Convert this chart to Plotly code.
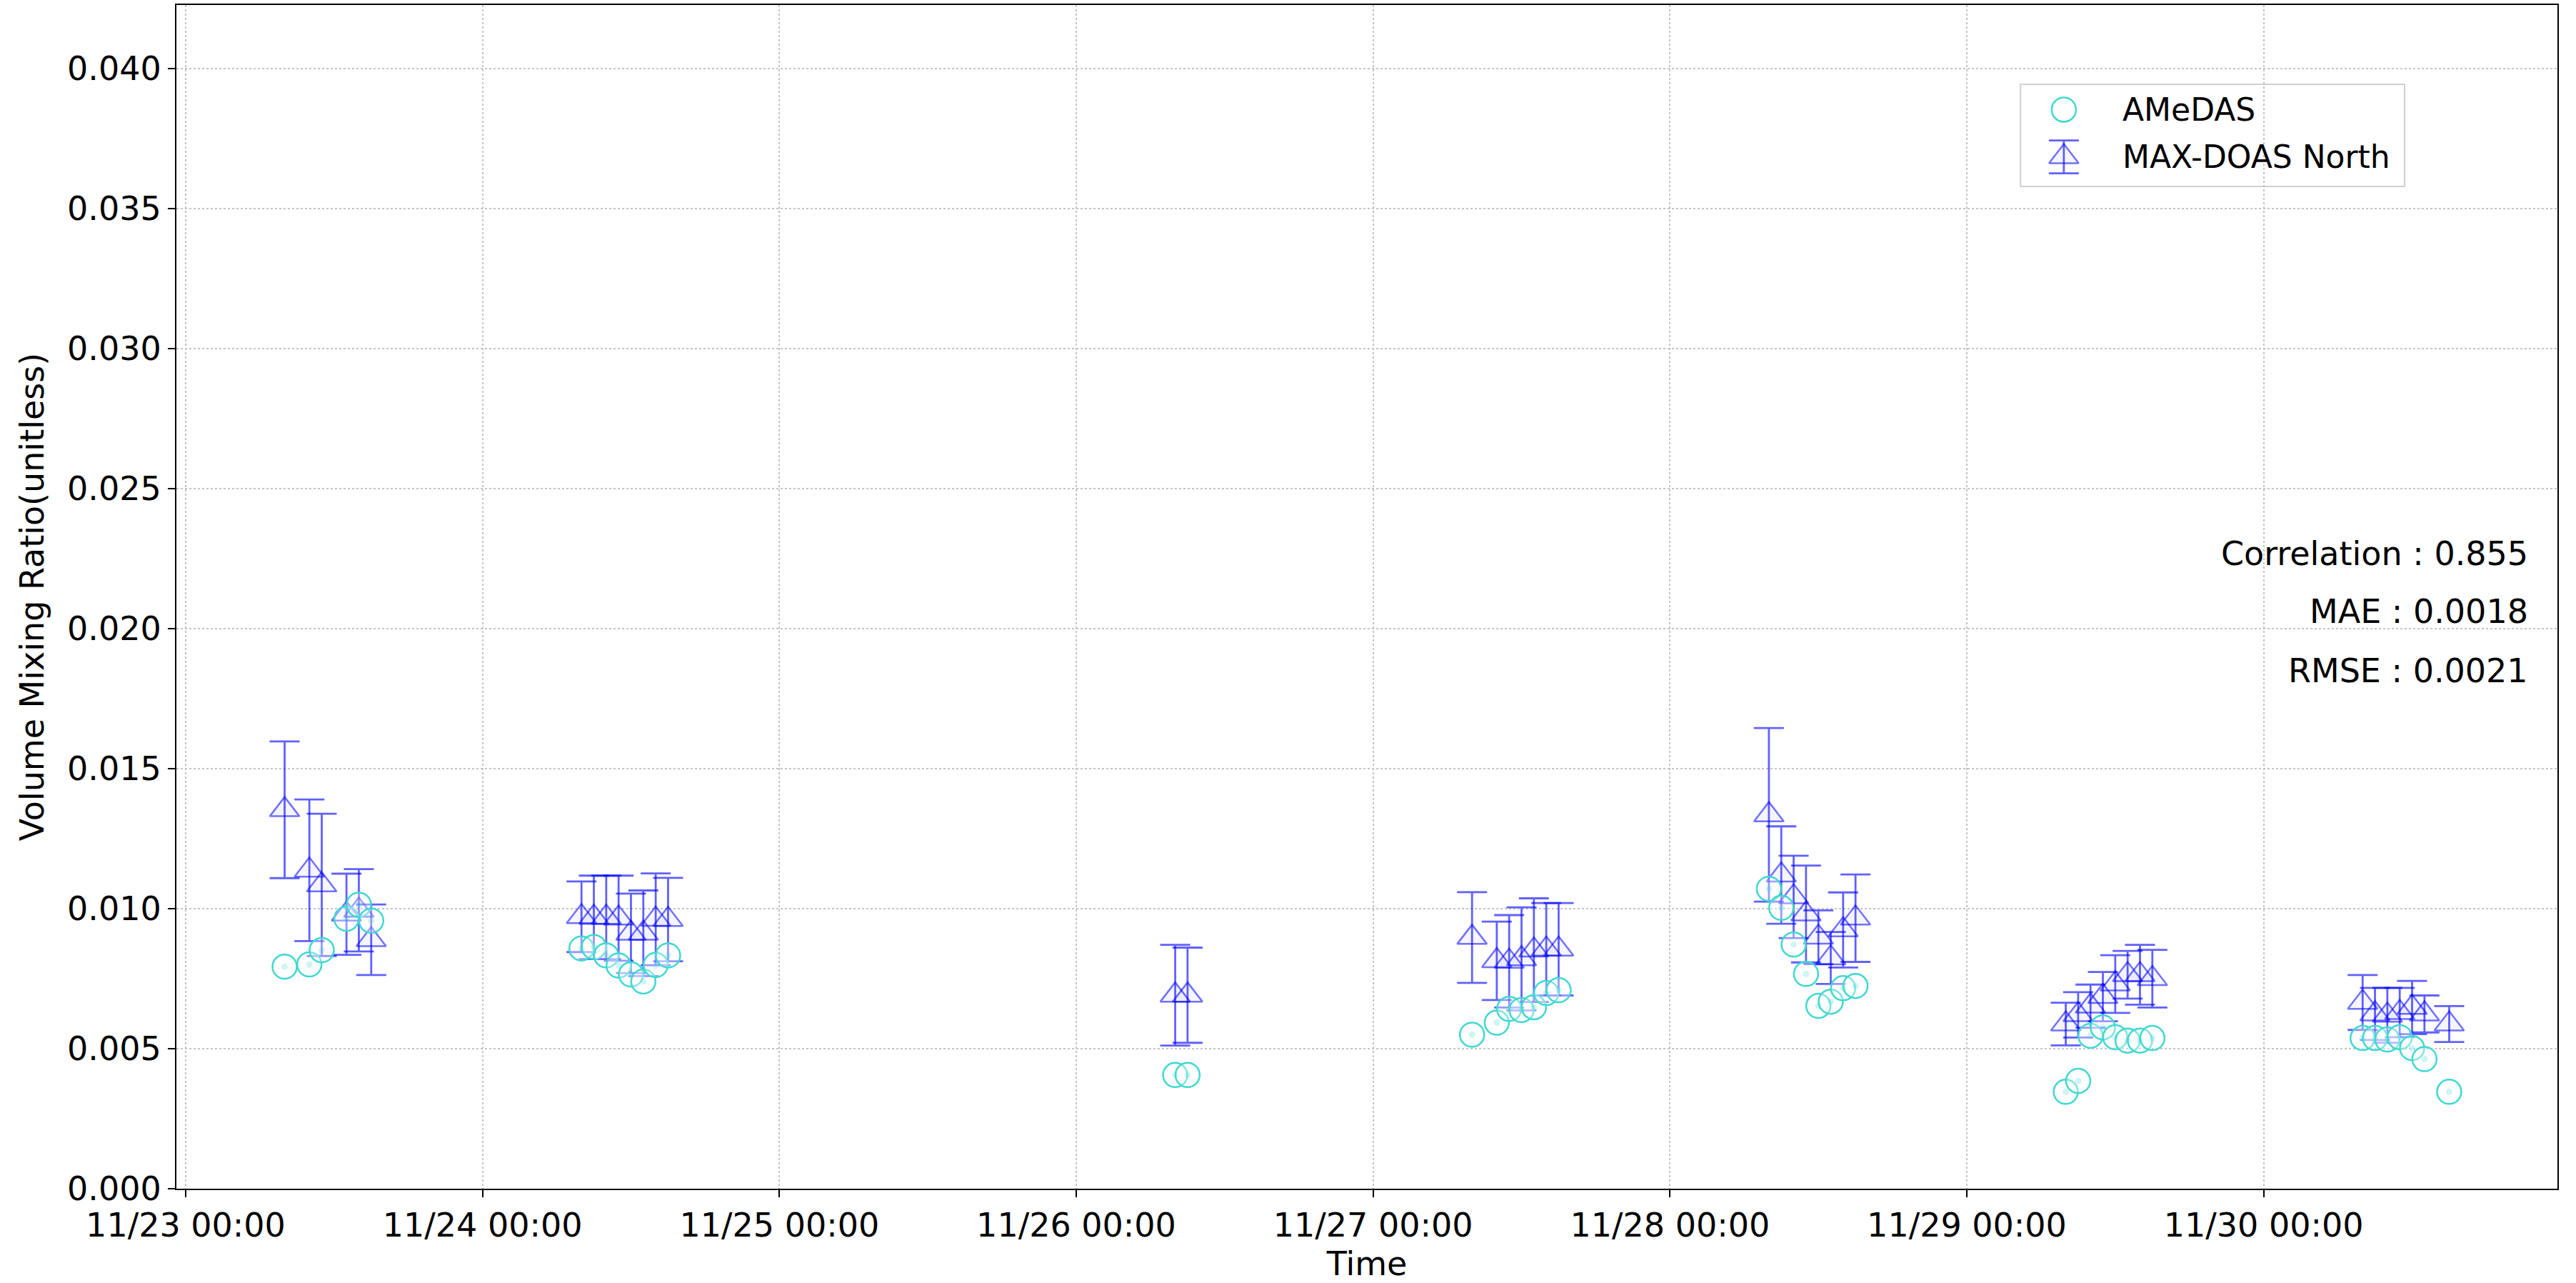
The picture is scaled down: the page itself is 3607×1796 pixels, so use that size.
import plotly.graph_objects as go

# ---------------- data ----------------
times = [
    "2023-11-23 08:00", "2023-11-23 10:00", "2023-11-23 11:00", "2023-11-23 13:00", "2023-11-23 14:00", "2023-11-23 15:00",
    "2023-11-24 08:00", "2023-11-24 09:00", "2023-11-24 10:00", "2023-11-24 11:00", "2023-11-24 12:00", "2023-11-24 13:00", "2023-11-24 14:00", "2023-11-24 15:00",
    "2023-11-26 08:00", "2023-11-26 09:00",
    "2023-11-27 08:00", "2023-11-27 10:00", "2023-11-27 11:00", "2023-11-27 12:00", "2023-11-27 13:00", "2023-11-27 14:00", "2023-11-27 15:00",
    "2023-11-28 08:00", "2023-11-28 09:00", "2023-11-28 10:00", "2023-11-28 11:00", "2023-11-28 12:00", "2023-11-28 13:00", "2023-11-28 14:00", "2023-11-28 15:00",
    "2023-11-29 08:00", "2023-11-29 09:00", "2023-11-29 10:00", "2023-11-29 11:00", "2023-11-29 12:00", "2023-11-29 13:00", "2023-11-29 14:00", "2023-11-29 15:00",
    "2023-11-30 08:00", "2023-11-30 09:00", "2023-11-30 10:00", "2023-11-30 11:00", "2023-11-30 12:00", "2023-11-30 13:00", "2023-11-30 15:00",
]

amedas_vmr = [
    0.00793, 0.00801, 0.00852, 0.00964, 0.01014, 0.00957,
    0.00858, 0.00863, 0.00833, 0.00797, 0.00765, 0.00740, 0.00799, 0.00833,
    0.00406, 0.00406,
    0.00550, 0.00593, 0.00642, 0.00638, 0.00648, 0.00699, 0.00709,
    0.01071, 0.01003, 0.00872, 0.00767, 0.00653, 0.00668, 0.00716, 0.00724,
    0.00346, 0.00385, 0.00546, 0.00576, 0.00541, 0.00529, 0.00529, 0.00538,
    0.00538, 0.00538, 0.00533, 0.00541, 0.00502, 0.00463, 0.00346,
]

maxdoas_vmr = [
    0.01353, 0.01137, 0.01085, 0.00980, 0.00994, 0.00889,
    0.00971, 0.00969, 0.00969, 0.00966, 0.00912, 0.00912, 0.00962, 0.00961,
    0.00691, 0.00691,
    0.00897, 0.00814, 0.00812, 0.00821, 0.00852, 0.00855, 0.00855,
    0.01335, 0.01120, 0.01042, 0.00981, 0.00898, 0.00824, 0.00924, 0.00966,
    0.00588, 0.00621, 0.00652, 0.00686, 0.00731, 0.00764, 0.00764, 0.00750,
    0.00665, 0.00624, 0.00619, 0.00629, 0.00647, 0.00624, 0.00588,
]

maxdoas_err = [
    0.00244, 0.00253, 0.00254, 0.00145, 0.00147, 0.00126,
    0.00126, 0.00149, 0.00149, 0.00152, 0.00142, 0.00153, 0.00164, 0.00149,
    0.00180, 0.00170,
    0.00162, 0.00140, 0.00165, 0.00184, 0.00185, 0.00165, 0.00165,
    0.00310, 0.00174, 0.00147, 0.00173, 0.00096, 0.00093, 0.00134, 0.00156,
    0.00076, 0.00081, 0.00077, 0.00088, 0.00103, 0.00085, 0.00107, 0.00103,
    0.00098, 0.00093, 0.00098, 0.00088, 0.00095, 0.00066, 0.00064,
]

y_ticks = [0.000, 0.005, 0.010, 0.015, 0.020, 0.025, 0.030, 0.035, 0.040]
series_names = ["AMeDAS", "MAX-DOAS North"]
stats_text = ["Correlation : 0.855", "MAE : 0.0018", "RMSE : 0.0021"]

# ---------------- styles ----------------
FONT = "DejaVu Sans"
CYAN = "#40D8D0"
BLUE_ERR = "rgba(0,0,255,0.62)"
BLUE_MK = "rgba(0,0,255,0.55)"
TRI_FILL = "rgba(0,0,255,0.04)"
CIRC_FILL = "rgba(255,255,255,0.35)"

fig = go.Figure()

fig.add_trace(go.Scatter(
    x=times, y=maxdoas_vmr, mode="markers", name=series_names[1], showlegend=False,
    marker=dict(symbol="triangle-up", size=36, color=TRI_FILL, line=dict(width=2.5, color=BLUE_MK)),
    error_y=dict(type="data", array=maxdoas_err, visible=True, color=BLUE_ERR, thickness=2.8, width=21),
))
fig.add_trace(go.Scatter(
    x=times, y=amedas_vmr, mode="markers", name=series_names[0], showlegend=False,
    marker=dict(symbol="circle", size=34, color=CIRC_FILL, line=dict(width=2.5, color=CYAN)),
))
fig.add_trace(go.Scatter(
    x=times, y=amedas_vmr, mode="markers", showlegend=False, hoverinfo="skip",
    marker=dict(symbol="circle", size=9, color="rgba(64,216,208,0.25)", line=dict(width=0)),
))

# ---------- legend drawn on an overlay axis spanning the plot area (0..1) ----------
leg_box = dict(x0=0.7745, x1=0.9358, y0=0.8467, y1=0.933)
leg_sym_x = 0.7927
leg_txt_x = 0.8167
leg_rows_y = [0.9116, 0.8717]

fig.add_shape(type="rect", xref="paper", yref="paper", **leg_box,
              line=dict(color="#d0d0d0", width=2), fillcolor="rgba(255,255,255,0.8)", layer="between")
fig.add_trace(go.Scatter(
    x=[leg_sym_x], y=[leg_rows_y[0]], xaxis="x2", yaxis="y2", mode="markers",
    showlegend=False, hoverinfo="skip",
    marker=dict(symbol="circle", size=34, color=CIRC_FILL, line=dict(width=2.5, color=CYAN)),
))
fig.add_trace(go.Scatter(
    x=[leg_sym_x], y=[leg_rows_y[1]], xaxis="x2", yaxis="y2", mode="markers",
    showlegend=False, hoverinfo="skip",
    marker=dict(symbol="triangle-up", size=36, color=TRI_FILL, line=dict(width=2.5, color=BLUE_MK)),
    error_y=dict(type="constant", value=0.01388, visible=True, color=BLUE_ERR, thickness=2.8, width=21),
))
for name, yy in zip(series_names, leg_rows_y):
    fig.add_annotation(x=leg_txt_x, y=yy, xref="paper", yref="paper", text=name,
                       showarrow=False, xanchor="left", yanchor="middle",
                       font=dict(family=FONT, size=44, color="black"))

for txt, yy in zip(stats_text, [0.5368, 0.4876, 0.4375]):
    fig.add_annotation(
        x=0.9883, y=yy, xref="paper", yref="paper",
        text=txt, showarrow=False, xanchor="right", yanchor="middle",
        font=dict(family=FONT, size=46, color="black"),
    )

L, R, T, B = 247, 26, 7, 132
W, H = 3607, 1796

fig.update_layout(
    width=W, height=H,
    margin=dict(l=L, r=R, t=T, b=B, autoexpand=False),
    paper_bgcolor="white", plot_bgcolor="white",
    font=dict(family=FONT, size=46, color="black"),
    showlegend=False,
    xaxis=dict(
        type="date",
        range=["2023-11-22 23:15", "2023-11-30 23:45"],
        tick0="2023-11-23 00:00", dtick=86400000, tickformat="%m/%d %H:%M",
        showgrid=True, gridcolor="#c4c4c4", griddash="dot", gridwidth=1.5,
        showline=True, linecolor="black", linewidth=2, mirror=True,
        ticks="outside", ticklen=10, tickwidth=2, tickcolor="black",
        tickfont=dict(family=FONT, size=46),
        title=dict(text="Time", font=dict(family=FONT, size=46), standoff=6),
        zeroline=False, automargin=False,
    ),
    yaxis=dict(
        range=[0, 0.04227],
        tickvals=y_ticks, ticktext=[f"{v:.3f}" for v in y_ticks],
        showgrid=True, gridcolor="#c4c4c4", griddash="dot", gridwidth=1.5,
        showline=True, linecolor="black", linewidth=2, mirror=True,
        ticks="outside", ticklen=10, tickwidth=2, tickcolor="black",
        tickfont=dict(family=FONT, size=46),
        title=dict(text="Volume Mixing Ratio(unitless)", font=dict(family=FONT, size=46), standoff=18),
        zeroline=False, automargin=False,
    ),
    xaxis2=dict(overlaying="x", range=[0, 1], visible=False, fixedrange=True),
    yaxis2=dict(overlaying="y", range=[0, 1], visible=False, fixedrange=True),
)

fig.write_html(
    "out.html",
    config={"displayModeBar": False},
    post_script="document.body.style.margin='0px';document.body.style.padding='0px';",
)
